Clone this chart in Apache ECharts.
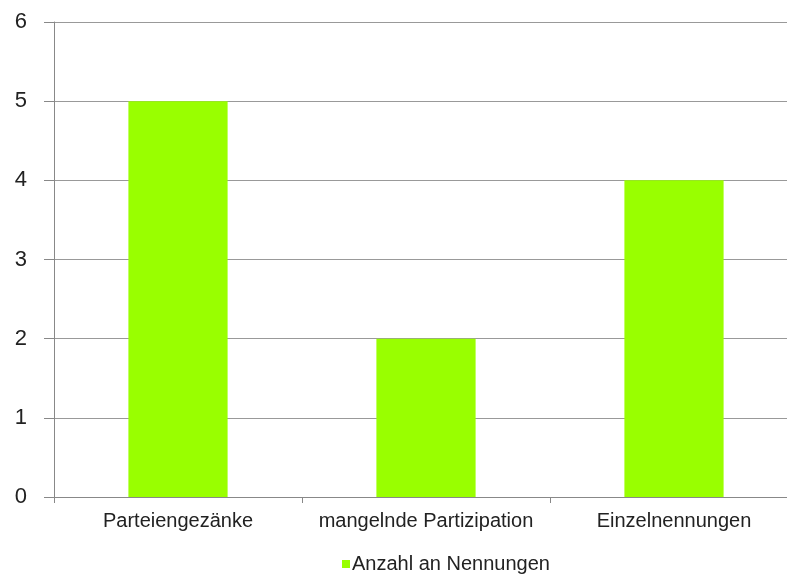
<!DOCTYPE html>
<html>
<head>
<meta charset="utf-8">
<script src="https://cdn.jsdelivr.net/npm/echarts@6/dist/echarts.min.js"></script>
<style>
  html, body { margin: 0; padding: 0; background: #fff; overflow: hidden; }
  #chart { width: 798px; height: 574px; }
</style>
</head>
<body>
<div id="chart"></div>
<script>
// Daten
const categories = ['Parteiengezänke', 'mangelnde Partizipation', 'Einzelnennungen']
const seriesName = 'Anzahl an Nennungen'
const values = [5, 2, 4]

// Diagramm ist rechts leicht abgeschnitten wie im Original
let chart = echarts.init(document.getElementById('chart'))
let option = {
  animation: false,
  textStyle: { fontFamily: 'Liberation Sans, Arial, sans-serif' },
  grid: { left: 54, right: 0, top: 22, bottom: 77 },
  legend: {
    data: [seriesName],
    top: 549,
    left: 337,
    icon: 'rect',
    itemWidth: 8,
    itemHeight: 8,
    itemGap: 2,
    textStyle: { fontSize: 20, color: '#222', padding: [0, 0, 0, -3] }
  },
  xAxis: {
    type: 'category',
    data: categories,
    axisLine: { lineStyle: { color: '#888', width: 1 } },
    axisTick: { show: true, length: 6, lineStyle: { color: '#888' } },
    axisLabel: { fontSize: 20, color: '#222', margin: 14, interval: 0 }
  },
  yAxis: {
    type: 'value',
    min: 0,
    max: 6,
    interval: 1,
    axisLine: { show: true, lineStyle: { color: '#888' } },
    axisTick: { show: true, length: 10, lineStyle: { color: '#888' } },
    axisLabel: { fontSize: 22, color: '#222', margin: 27 },
    splitLine: { lineStyle: { color: '#999', width: 1 } }
  },
  series: [{
    name: seriesName,
    type: 'bar',
    data: values,
    barWidth: '40%',
    itemStyle: { color: '#99ff00' }
  }]
}
chart.setOption(option)
</script>
</body>
</html>
